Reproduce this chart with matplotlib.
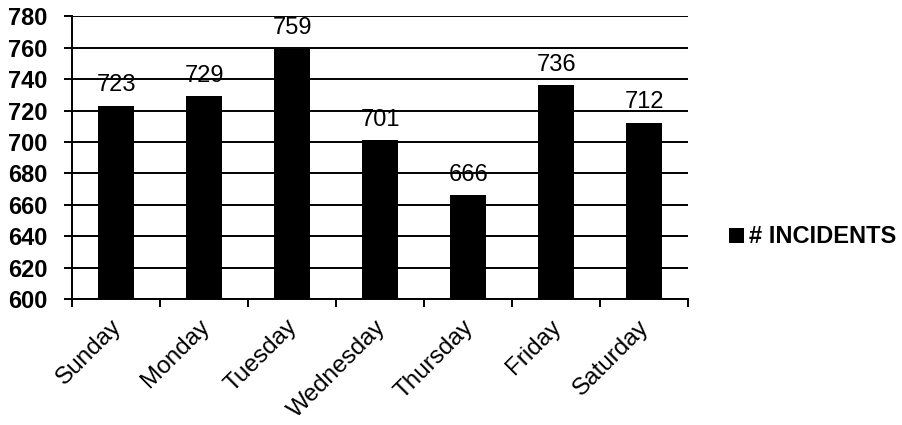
import matplotlib
import numpy as np

matplotlib.use("Agg")
import matplotlib.pyplot as plt  # noqa: E402
from matplotlib.transforms import ScaledTranslation  # noqa: E402

days = ["Sunday", "Monday", "Tuesday", "Wednesday", "Thursday", "Friday", "Saturday"]
incidents = [723, 729, 759, 701, 666, 736, 712]
series_name = "# INCIDENTS"
y_ticks = list(range(600, 781, 20))

plt.rcParams["font.family"] = ["Liberation Sans", "DejaVu Sans"]


def main() -> None:
    fig = plt.figure(figsize=(9.02, 4.25), dpi=100)
    ax = fig.add_axes([0.08, 0.296, 0.683, 0.666])

    x = np.arange(len(days))
    ax.bar(x, incidents, width=0.41, color="black", zorder=3, label=series_name)
    for xi, v in zip(x, incidents):
        ax.annotate(str(v), (xi, v), xytext=(0, 7), textcoords="offset points",
                    ha="center", va="bottom", fontsize=17, zorder=4)

    ax.set_ylim(600, 780)
    ax.set_xlim(-0.5, len(days) - 0.5)
    ax.set_yticks(y_ticks)
    ax.set_yticklabels([str(t) for t in y_ticks], fontsize=17, fontweight="bold")
    ax.yaxis.grid(True, color="black", linewidth=1.4, zorder=1)
    ax.tick_params(axis="y", direction="out", length=6, width=1.4, pad=12)

    # labels sit under bar centres, tick marks on the category boundaries
    ax.set_xticks(x)
    ax.set_xticklabels(days, rotation=45, ha="right", rotation_mode="anchor",
                       fontsize=17.5)
    ax.tick_params(axis="x", which="major", length=0, pad=12)
    ax.set_xticks(np.arange(-0.5, len(days)), minor=True)
    ax.tick_params(axis="x", which="minor", direction="out", length=6, width=1.4)
    shift = ScaledTranslation(-6 / 100, 0, fig.dpi_scale_trans)
    for lbl in ax.get_xticklabels():
        lbl.set_transform(lbl.get_transform() + shift)

    for side in ("top", "right"):
        ax.spines[side].set_visible(False)
    for side in ("left", "bottom"):
        ax.spines[side].set_linewidth(1.4)
        ax.spines[side].set_zorder(5)

    ax.legend(loc="center left", bbox_to_anchor=(1.04, 0.22), frameon=False,
              handlelength=0.6, handleheight=0.6, handletextpad=0.25,
              borderaxespad=0.3, prop={"size": 17, "weight": "bold"})

    fig.savefig("out.png", dpi=100)


if __name__ == "__main__":
    main()
